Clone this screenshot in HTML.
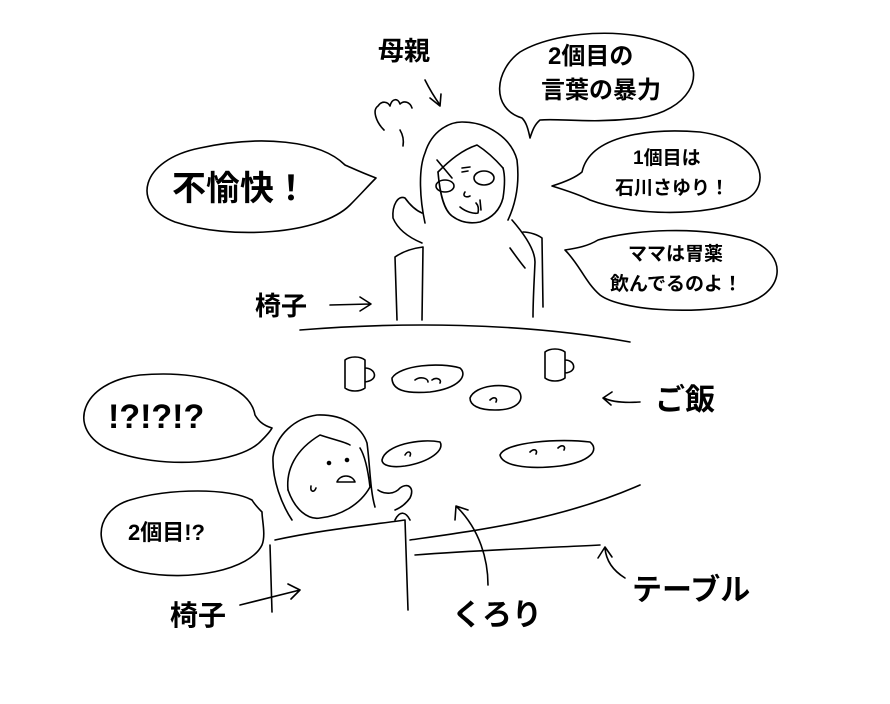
<!DOCTYPE html>
<html><head><meta charset="utf-8"><style>
html,body{margin:0;padding:0;background:#fff;}
svg{display:block;}
text{font-family:"Liberation Sans","Noto Sans CJK JP",sans-serif;font-weight:bold;fill:#000;}
</style></head><body>
<svg width="890" height="704" viewBox="0 0 890 704" xmlns="http://www.w3.org/2000/svg">
<g fill="none" stroke="#000" stroke-width="1.6" stroke-linecap="round" stroke-linejoin="round">
<!-- bubbles -->
<path d="M530,138 C528,128 526,122 522,118 C490,108 495,70 520,52 C560,28 650,25 685,55 C705,75 690,110 640,118 C590,124 560,118 540,120 C534,125 532,132 530,138Z"/>
<path d="M376,178 C360,172 352,168 345,165 C320,140 260,135 200,148 C140,160 130,205 175,222 C230,240 320,235 350,205 C360,195 368,186 376,178Z"/>
<path d="M552,186 C565,182 575,178 582,172 C590,135 650,128 700,132 C760,140 775,185 745,200 C700,218 630,215 590,200 C580,195 565,190 552,186Z"/>
<path d="M565,250 C578,248 588,246 598,240 C630,230 700,225 750,240 C790,255 785,295 740,305 C690,315 620,310 600,295 C585,282 580,265 565,250Z"/>
<path d="M272,428 C262,425 258,420 255,415 C250,385 200,370 140,375 C80,382 65,430 110,450 C160,470 240,465 262,440 C266,436 270,432 272,428Z"/>
<path d="M262,512 C258,508 255,505 252,500 C230,488 170,488 130,500 C90,512 90,560 140,572 C190,582 250,570 262,545 C266,535 262,520 262,512Z"/>
<!-- arrows -->
<path d="M425,80 C430,90 435,98 440,105 M430,98 L440,106 L441,94"/>
<path d="M330,305 L370,304 M360,297 L371,304 L360,311"/>
<path d="M640,402 C625,403 612,402 604,398 M612,392 L603,398 L611,405"/>
<path d="M240,605 C260,600 280,595 300,590 M288,584 L300,590 L291,599"/>
<path d="M488,585 C488,560 480,530 457,507 M455,520 L456,506 L468,510"/>
<path d="M625,578 C612,570 606,560 605,548 M598,558 L605,547 L612,557"/>
<!-- mother -->
<path d="M384,130 C376,122 372,110 378,106 C382,100 388,102 390,106 C392,98 398,98 400,104 C404,100 410,102 412,108"/>
<path d="M400,130 C403,135 404,140 403,146"/>
<path d="M425,223 C420,200 418,170 425,153 C432,130 450,122 462,122 C490,122 512,140 517,160 C520,185 515,205 508,220"/>
<path d="M438,172 C440,195 444,210 452,216 C460,222 470,224 480,222 C492,218 500,210 503,198 C505,185 505,175 503,168"/>
<path d="M438,172 C450,160 462,150 477,145 C488,152 496,160 503,168"/>
<path d="M437,160 L452,178 M462,168 L470,167 M462,172 L468,171"/>
<ellipse cx="445" cy="186" rx="9" ry="6"/><ellipse cx="484" cy="178" rx="10" ry="7"/>
<path d="M465,192 C462,196 466,198 470,196"/>
<path d="M460,207 C466,212 474,214 478,213 C479,208 478,205 476,203 M480,200 L481,210"/>
<path d="M422,213 C415,210 410,205 405,198 C398,195 392,205 393,218 C398,230 410,238 422,243"/>
<path d="M512,220 C525,235 535,250 535,262 C534,285 533,300 533,317 M510,248 C515,255 520,262 525,268"/>
<path d="M395,257 L397,320 M395,257 C405,250 415,248 423,247 L422,320 M523,232 C530,232 538,235 542,238 L543,307"/>
<!-- table -->
<path d="M300,330 C400,322 520,322 630,342"/>
<path d="M345,360 L345,388 C350,392 360,392 365,388 L365,360 C360,356 350,356 345,360Z M365,368 C375,368 380,380 365,382"/>
<path d="M545,352 L545,378 C550,382 560,382 565,378 L565,352 C560,348 550,348 545,352Z M565,360 C575,360 578,372 565,373"/>
<path d="M392,378 C400,365 440,362 460,368 C468,375 460,388 430,392 C405,394 392,390 392,378Z M415,380 C420,376 428,378 428,382 M432,380 C436,377 442,379 440,383"/>
<path d="M470,398 C475,385 505,382 518,390 C525,398 520,410 495,410 C478,410 470,405 470,398Z M490,400 C494,396 498,398 496,402"/>
<path d="M382,460 C385,445 420,438 440,442 C445,450 430,462 405,466 C390,468 382,465 382,460Z M405,455 C408,450 412,452 410,456"/>
<path d="M500,455 C505,442 560,438 590,442 C600,450 590,462 560,466 C525,470 502,465 500,455Z M530,452 C534,448 538,450 536,454 M558,448 C562,444 566,446 564,450"/>
<path d="M410,540 C480,530 560,520 640,485 M415,555 C480,550 540,548 600,545"/>
<!-- daughter -->
<path d="M292,520 C282,505 272,480 273,457 C276,435 295,418 317,415 C345,414 362,428 367,443 C370,465 370,490 375,507"/>
<path d="M288,490 C286,470 295,450 320,435 C335,440 345,442 350,445"/>
<path d="M288,490 C295,510 308,520 320,518 C340,516 360,505 370,487 C368,470 365,456 360,448"/>
<circle cx="329" cy="463" r="1.5" fill="#000"/><circle cx="347" cy="460" r="1.5" fill="#000"/>
<path d="M337,482 C340,474 352,474 355,482 Z"/>
<path d="M311,486 C310,492 314,493 316,488"/>
<path d="M378,490 C385,495 395,494 400,488 C408,482 415,488 410,498 C405,505 400,508 395,510"/>
<!-- daughter chair -->
<path d="M270,545 L272,612 M275,540 C320,530 370,525 405,520 L408,610 M395,520 C400,510 406,512 410,520"/>
</g>
<!-- texts -->
<text x="378" y="60" font-size="26">母親</text>
<text x="548" y="64" font-size="24">2個目の</text>
<text x="541" y="98" font-size="24">言葉の暴力</text>
<text x="172" y="200" font-size="34">不愉快！</text>
<text x="633" y="164" font-size="19">1個目は</text>
<text x="615" y="194" font-size="19">石川さゆり！</text>
<text x="628" y="260" font-size="19">ママは胃薬</text>
<text x="610" y="290" font-size="19">飲んでるのよ！</text>
<text x="255" y="315" font-size="26">椅子</text>
<text x="655" y="410" font-size="30">ご飯</text>
<text x="108" y="428" font-size="34">!?!?!?</text>
<text x="128" y="540" font-size="22">2個目!?</text>
<text x="170" y="625" font-size="28">椅子</text>
<text x="452" y="625" font-size="30">くろり</text>
<text x="632" y="600" font-size="30">テーブル</text>
</svg>
</body></html>
